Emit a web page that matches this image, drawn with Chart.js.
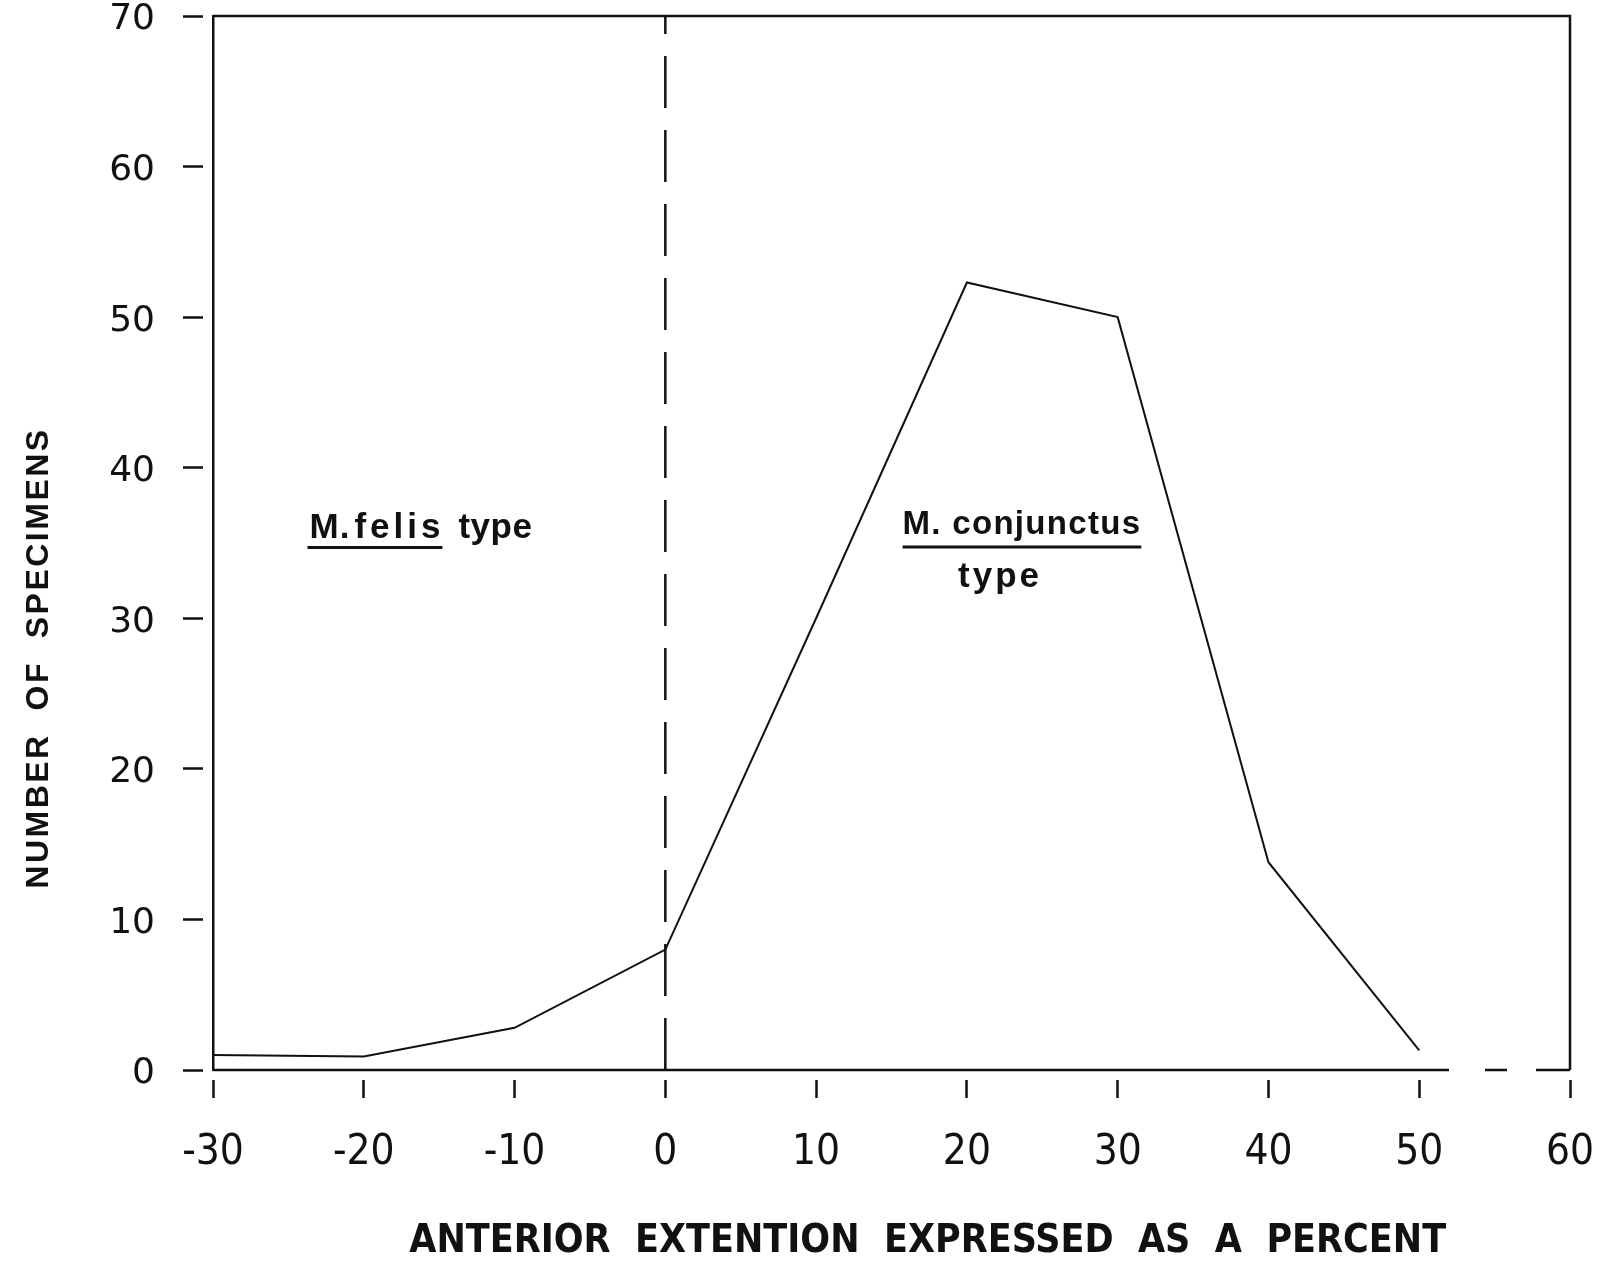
<!DOCTYPE html>
<html lang="en">
<head>
<meta charset="UTF-8">
<title>Anterior extention</title>
<script src="https://cdnjs.cloudflare.com/ajax/libs/Chart.js/4.4.1/chart.umd.min.js"></script>
<style>
  html, body { margin: 0; padding: 0; background: #fff; }
</style>
</head>
<body>
<canvas id="chart" width="1617" height="1274"></canvas>

<script>
// values
var extension = [-30, -20, -10, 0, 10, 20, 30, 40, 50];
var specimens = [1, 0.9, 2.8, 8, 30, 52.3, 50, 13.8, 1.3];
var xTickValues = [-30, -20, -10, 0, 10, 20, 30, 40, 50, 60];
var yTickValues = [0, 10, 20, 30, 40, 50, 60, 70];
var dividerAt = 0;          // dashed line between the two types

var ink = '#111';

// frame, axis titles and the two type labels
var notes = {
  id: 'notes',
  afterDraw: function(chart) {
    var ctx = chart.ctx, xs = chart.scales.x, ys = chart.scales.y, a = chart.chartArea;
    ctx.save();
    ctx.strokeStyle = ink;
    ctx.fillStyle = ink;

    // top and right side of the frame
    ctx.lineWidth = 2.5;
    ctx.beginPath();
    ctx.moveTo(a.left, a.top);
    ctx.lineTo(a.right, a.top);
    ctx.lineTo(a.right, a.bottom);
    ctx.stroke();

    // bottom line, broken near the right end like the original
    ctx.setLineDash([1236, 36, 22, 29, 600]);
    ctx.beginPath();
    ctx.moveTo(a.left, a.bottom);
    ctx.lineTo(a.right, a.bottom);
    ctx.stroke();
    ctx.setLineDash([]);

    function label(txt, x, y, font, spacing, align) {
      ctx.font = font;
      ctx.letterSpacing = spacing + 'px';
      ctx.textAlign = align || 'left';
      ctx.textBaseline = 'alphabetic';
      ctx.fillText(txt, x, y);
      return ctx.measureText(txt).width;
    }
    function underline(x1, x2, y) {
      ctx.lineWidth = 3;
      ctx.beginPath();
      ctx.moveTo(x1, y);
      ctx.lineTo(x2, y);
      ctx.stroke();
    }

    var bold = 'bold 35px "Liberation Sans", Arial, sans-serif';

    // M. felis type
    var fx = xs.getPixelForValue(-23.6), fy = ys.getPixelForValue(35.3);
    var w1 = label('M.', fx, fy, bold, 1);
    var w2 = label('felis', fx + w1 + 4, fy, bold, 4);
    underline(fx - 2, fx + w1 + 4 + w2 - 2, fy + 9);
    label('type', fx + w1 + 4 + w2 + 14, fy, bold, 0.5);

    // M. conjunctus / type
    var cx = xs.getPixelForValue(23.65), cy = ys.getPixelForValue(35.6);
    var wc = label('M. conjunctus', cx, cy, 'bold 33px "Liberation Sans", Arial, sans-serif', 1.3, 'center');
    underline(cx - wc / 2, cx + wc / 2, cy + 13);
    label('type', xs.getPixelForValue(22.2), ys.getPixelForValue(32.1), bold, 3, 'center');

    // x axis title
    label('ANTERIOR  EXTENTION  EXPRESSED  AS  A  PERCENT', xs.getPixelForValue(17.4), 1252,
      'bold 39px "Liberation Sans Narrow", "DejaVu Sans Condensed", sans-serif', 0, 'center');

    // y axis title
    ctx.translate(48, 658);
    ctx.rotate(-Math.PI / 2);
    label('NUMBER  OF  SPECIMENS', 0, 0, 'bold 32px "Liberation Sans", Arial, sans-serif', 2.5, 'center');

    ctx.restore();
  }
};

var points = extension.map(function(v, i) { return { x: v, y: specimens[i] }; });
var divider = [{ x: dividerAt, y: yTickValues[0] }, { x: dividerAt, y: yTickValues[yTickValues.length - 1] }];

new Chart(document.getElementById('chart'), {
  type: 'line',
  data: {
    datasets: [
      {
        data: points,
        borderColor: ink,
        borderWidth: 2,
        pointRadius: 0,
        tension: 0
      },
      {
        data: divider,
        borderColor: ink,
        borderWidth: 2.5,
        borderDash: [52, 22],
        pointRadius: 0
      }
    ]
  },
  options: {
    responsive: false,
    animation: false,
    devicePixelRatio: 1,
    layout: { padding: { top: 16, right: 47, left: 0, bottom: 0 } },
    plugins: { legend: { display: false }, tooltip: { enabled: false } },
    scales: {
      x: {
        type: 'linear',
        min: xTickValues[0],
        max: xTickValues[xTickValues.length - 1],
        afterBuildTicks: function(s) { s.ticks = xTickValues.map(function(v) { return { value: v }; }); },
        afterFit: function(s) { s.height = 204; s.paddingLeft = 0; s.paddingRight = 0; },
        border: { display: false },
        grid: {
          drawOnChartArea: false,
          drawTicks: true,
          tickLength: 28,
          tickWidth: 2.5,
          tickColor: ink,
          tickBorderDash: [0, 10, 19, 200]
        },
        ticks: {
          autoSkip: false,
          maxRotation: 0,
          padding: 30,
          color: ink,
          font: { family: '"Liberation Sans Narrow", "DejaVu Sans Condensed", sans-serif', size: 42 }
        }
      },
      y: {
        type: 'linear',
        min: yTickValues[0],
        max: yTickValues[yTickValues.length - 1],
        afterBuildTicks: function(s) { s.ticks = yTickValues.map(function(v) { return { value: v }; }); },
        afterFit: function(s) { s.width = 213; s.paddingTop = 0; s.paddingBottom = 0; },
        border: { display: true, color: ink, width: 2.5 },
        grid: {
          drawOnChartArea: false,
          drawTicks: true,
          tickLength: 30,
          tickWidth: 2.5,
          tickColor: ink,
          tickBorderDash: [20, 200]
        },
        ticks: {
          autoSkip: false,
          padding: 28,
          labelOffset: 4,
          color: ink,
          font: { family: '"DejaVu Sans", sans-serif', size: 36, lineHeight: 1 }
        }
      }
    }
  },
  plugins: [notes]
});
</script>
</body>
</html>
